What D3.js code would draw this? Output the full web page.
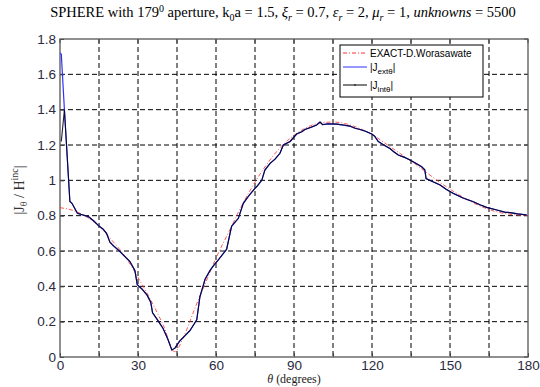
<!DOCTYPE html>
<html><head><meta charset="utf-8">
<script src="https://cdn.jsdelivr.net/npm/d3@7"></script>
<style>body{margin:0;background:#fff}svg{display:block}</style>
</head><body>
<script>
// ---- data ----
const xTicks = [0,15,30,45,60,75,90,105,120,135,150,165,180];
const xTickLabels = ["0","","30","","60","","90","","120","","150","","180"];
const yTicks = [0,0.2,0.4,0.6,0.8,1,1.2,1.4,1.6,1.8];
const yTickLabels = ["0","0.2","0.4","0.6","0.8","1","1.2","1.4","1.6","1.8"];

const exactTheta = [0,5,10,15,20,25,30,35,40,44,48,52,56,60,65,70,75,80,85,90,95,100,105,110,115,120,125,130,135,140,145,150,155,160,165,170,175,180];
const exactVal  = [0.845,0.83,0.795,0.74,0.66,0.57,0.45,0.32,0.17,0.03,0.13,0.28,0.42,0.56,0.71,0.86,0.99,1.1,1.19,1.255,1.30,1.325,1.33,1.32,1.295,1.26,1.21,1.16,1.11,1.055,1.0,0.95,0.905,0.865,0.835,0.815,0.805,0.80];

const numTheta = [1.7,3.8,4.6,6.7,8.5,10.9,13,14.7,16.5,17.9,19.2,20.5,22.4,24.5,26.9,28.8,29.7,31.5,33.5,34.9,35.6,37.5,39.7,41.5,43,44.2,46,48,50,52.6,53.8,55.8,57.7,59.2,60.9,62.5,64.1,65.4,66,68.6,70.5,72.5,74.4,76,77.6,78.8,80.8,82.7,84.6,85.9,88.5,91,93,94.2,96.5,98.7,100,101,103,106.4,109,111.5,113.5,115.4,117.5,119.9,121,122.4,124.5,126.9,128.5,130.1,132.5,134.6,137,139.1,140.3,140.8,143,146.2,148.5,151.3,155,159,161.5,164.1,168,171,173.1,176,179.5];
const numVal   = [1.40,0.88,0.87,0.813,0.805,0.795,0.77,0.745,0.725,0.70,0.65,0.63,0.606,0.575,0.54,0.49,0.41,0.385,0.35,0.31,0.25,0.21,0.16,0.10,0.04,0.05,0.09,0.12,0.15,0.21,0.34,0.44,0.49,0.52,0.55,0.58,0.61,0.70,0.74,0.785,0.87,0.91,0.945,0.97,1.0,1.058,1.096,1.12,1.153,1.2,1.22,1.262,1.275,1.288,1.30,1.313,1.33,1.315,1.32,1.318,1.313,1.307,1.295,1.288,1.278,1.262,1.25,1.22,1.20,1.18,1.16,1.143,1.13,1.115,1.095,1.077,1.06,1.01,0.995,0.974,0.95,0.926,0.90,0.879,0.862,0.847,0.832,0.82,0.817,0.81,0.804];
const extStartTheta = [0,0.5];
const extStartVal = [1.72,1.715];
const intStartTheta = [0.5];
const intStartVal = [1.22];

const legendLabels = ["EXACT-D.Worasawate","J","J"];

// ---- chart ----
const W=540,H=387, L=60,R=528,T=39,B=357;
const svg=d3.select("body").append("svg").attr("width",W).attr("height",H);
const x=d3.scaleLinear().domain([0,180]).range([L,R]);
const y=d3.scaleLinear().domain([0,1.8]).range([B,T]);

// grid
const g=svg.append("g");
g.selectAll(".vg").data(xTicks.slice(1,-1)).enter().append("line")
 .attr("x1",d=>x(d)).attr("x2",d=>x(d)).attr("y1",T).attr("y2",B)
 .attr("stroke","#000").attr("stroke-width",1).attr("stroke-dasharray","5,3");
g.selectAll(".hg").data(yTicks.slice(1,-1)).enter().append("line")
 .attr("y1",d=>y(d)).attr("y2",d=>y(d)).attr("x1",L).attr("x2",R)
 .attr("stroke","#000").attr("stroke-width",1).attr("stroke-dasharray","5,3");

// axes
const xa=d3.axisBottom(x).tickValues(xTicks).tickFormat((d,i)=>xTickLabels[i]).tickSize(-4).tickPadding(3);
const ya=d3.axisLeft(y).tickValues(yTicks).tickFormat((d,i)=>yTickLabels[i]).tickSize(-4).tickPadding(4);
const gx=svg.append("g").attr("transform",`translate(0,${B})`).call(xa);
const gy=svg.append("g").attr("transform",`translate(${L},0)`).call(ya);
[gx,gy].forEach(a=>{a.select(".domain").remove();
 a.selectAll("line").attr("stroke","#444");
 a.selectAll("text").attr("font-family","Liberation Sans, Arial, sans-serif").attr("font-size",13.5).attr("fill","#2a2a40");});
// top/right ticks
svg.selectAll(".tt").data(xTicks).enter().append("line").attr("x1",d=>x(d)).attr("x2",d=>x(d)).attr("y1",T).attr("y2",T+4).attr("stroke","#444");
svg.selectAll(".rt").data(yTicks).enter().append("line").attr("y1",d=>y(d)).attr("y2",d=>y(d)).attr("x1",R).attr("x2",R-4).attr("stroke","#444");

// frame
svg.append("rect").attr("x",L).attr("y",T).attr("width",R-L).attr("height",B-T)
 .attr("fill","none").attr("stroke","#555").attr("stroke-width",1.3);

// curves
const line=d3.line().x(d=>x(d[0])).y(d=>y(d[1]));
const exact=exactTheta.map((t,i)=>[t,exactVal[i]]);
const ext=extStartTheta.map((t,i)=>[t,extStartVal[i]]).concat(numTheta.map((t,i)=>[t,numVal[i]]));
const intr=intStartTheta.map((t,i)=>[t,intStartVal[i]]).concat(numTheta.map((t,i)=>[t,numVal[i]]));
svg.append("path").datum(exact).attr("d",line.curve(d3.curveMonotoneX)).attr("fill","none")
 .attr("stroke","#ff3030").attr("stroke-width",1).attr("stroke-dasharray","4,2,1,2").attr("opacity",0.8);
const line2=d3.line().x(d=>x(d[0])).y(d=>y(d[1]));
svg.append("path").datum(ext).attr("d",line2).attr("fill","none").attr("stroke","#3030ff").attr("stroke-width",1.2);
svg.append("path").datum(intr).attr("d",line2).attr("fill","none").attr("stroke","#000020").attr("stroke-width",1.1).attr("opacity",0.88);

// legend
const lg=svg.append("g");
lg.append("rect").attr("x",340).attr("y",45).attr("width",143).attr("height",52).attr("fill","#fff").attr("stroke","#000").attr("stroke-width",1);
const ly=[53,67,85];
lg.append("line").attr("x1",343).attr("x2",367).attr("y1",ly[0]).attr("y2",ly[0]).attr("stroke","#ff3030").attr("stroke-dasharray","4,2,1,2");
lg.append("line").attr("x1",343).attr("x2",367).attr("y1",ly[1]).attr("y2",ly[1]).attr("stroke","#3030ff");
lg.append("line").attr("x1",343).attr("x2",367).attr("y1",ly[2]).attr("y2",ly[2]).attr("stroke","#000");
lg.append("circle").attr("cx",355).attr("cy",ly[2]).attr("r",0.8).attr("fill","#000");
const lf="Liberation Sans, Arial, sans-serif";
lg.append("text").attr("x",370).attr("y",ly[0]+3.5).attr("font-family",lf).attr("font-size",10).text(legendLabels[0]);
const t1=lg.append("text").attr("x",370).attr("y",ly[1]+3.5).attr("font-family",lf).attr("font-size",10);
t1.append("tspan").text("|"+legendLabels[1]);
t1.append("tspan").attr("dy",3).attr("font-size",8).text("extθ");
t1.append("tspan").attr("dy",-3).text("|");
const t2=lg.append("text").attr("x",370).attr("y",ly[2]+3.5).attr("font-family",lf).attr("font-size",10);
t2.append("tspan").text("|"+legendLabels[2]);
t2.append("tspan").attr("dy",3).attr("font-size",8).text("intθ");
t2.append("tspan").attr("dy",-3).text("|");

// title
const sf="Liberation Serif, Times New Roman, serif";
const tt=svg.append("text").attr("x",283).attr("y",17).attr("text-anchor","middle").attr("font-family",sf).attr("font-size",14.5);
tt.append("tspan").text("SPHERE with 179");
tt.append("tspan").attr("dy",-5).attr("font-size",10).text("0");
tt.append("tspan").attr("dy",5).text(" aperture,  k");
tt.append("tspan").attr("dy",4).attr("font-size",10).text("0");
tt.append("tspan").attr("dy",-4).text("a = 1.5,  ");
tt.append("tspan").attr("font-style","italic").text("ξ");
tt.append("tspan").attr("dy",4).attr("font-size",10).attr("font-style","italic").text("r");
tt.append("tspan").attr("dy",-4).text(" = 0.7,  ");
tt.append("tspan").attr("font-style","italic").text("ε");
tt.append("tspan").attr("dy",4).attr("font-size",10).attr("font-style","italic").text("r");
tt.append("tspan").attr("dy",-4).text(" = 2, ");
tt.append("tspan").attr("font-style","italic").text("μ");
tt.append("tspan").attr("dy",4).attr("font-size",10).attr("font-style","italic").text("r");
tt.append("tspan").attr("dy",-4).text(" = 1, ");
tt.append("tspan").attr("font-style","italic").text("unknowns");
tt.append("tspan").text(" = 5500");

// y label
const yl=svg.append("text").attr("transform","translate(24,190) rotate(-90)").attr("text-anchor","middle").attr("font-family",sf).attr("font-size",14).attr("fill","#333");
yl.append("tspan").text("|J");
yl.append("tspan").attr("dy",3).attr("font-size",10).text("θ");
yl.append("tspan").attr("dy",-3).text(" / H");
yl.append("tspan").attr("dy",-6).attr("font-size",10).text("inc");
yl.append("tspan").attr("dy",6).text("|");

// x label
const xl=svg.append("text").attr("x",294).attr("y",383).attr("text-anchor","middle").attr("font-family",sf).attr("font-size",12).attr("fill","#222");
xl.append("tspan").attr("font-style","italic").text("θ");
xl.append("tspan").text("  (degrees)");
</script>
</body></html>
